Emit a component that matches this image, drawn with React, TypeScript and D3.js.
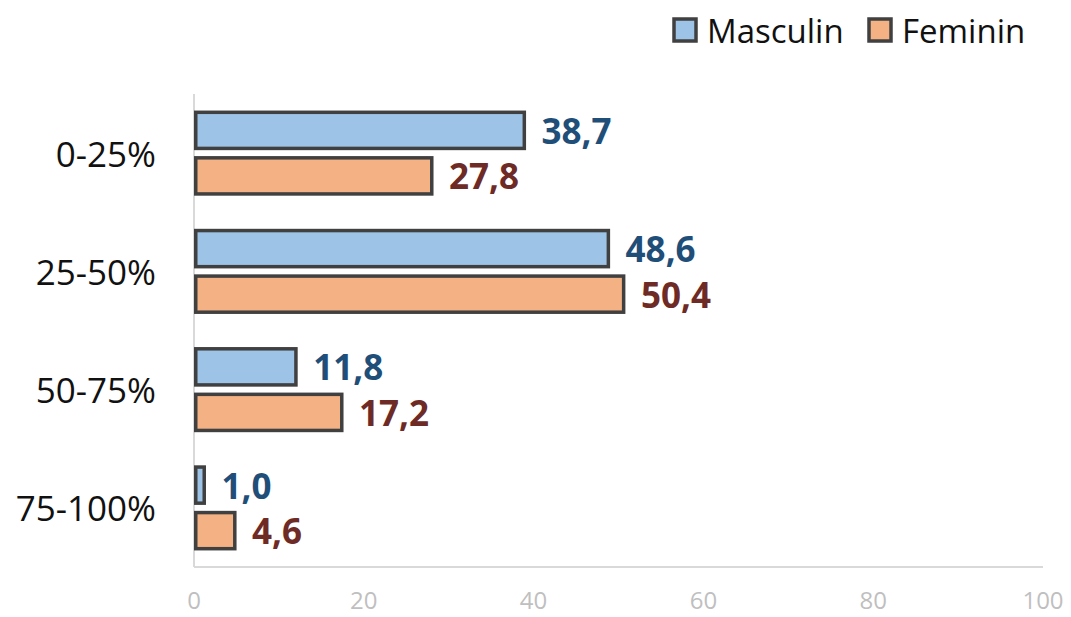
import React from "react";
import * as d3 from "d3";

const categories = ["0-25%", "25-50%", "50-75%", "75-100%"];
const seriesNames = ["Masculin", "Feminin"];
const masculin = [38.7, 48.6, 11.8, 1.0];
const feminin = [27.8, 50.4, 17.2, 4.6];
const xTicks = [0, 20, 40, 60, 80, 100];

const fills = ["#9DC3E6", "#F4B183"];
const labelColors = ["#1F4E79", "#6E2A25"];
const stroke = "#404040";
const FONT = "'Open Sans', 'Noto Sans', sans-serif";

export default function App() {
  const W = 1071, H = 617;
  const left = 194, right = 1043, top = 94, bottom = 567;
  const x = d3.scaleLinear().domain([0, 100]).range([left, right]);
  const y = d3.scaleBand<string>().domain(categories).range([top, bottom]).paddingInner(0.28).paddingOuter(0.14);
  const sub = d3.scaleBand<string>().domain(seriesNames).range([0, y.bandwidth()]).paddingInner(0.13);
  const sw = 3.5;
  const series = [masculin, feminin];
  const fmt = (v: number) => v.toFixed(1).replace(".", ",");

  return (
    <div style={{ position: "fixed", left: 0, top: 0, width: W, height: H, background: "#fff" }}>
      <svg width={W} height={H} style={{ display: "block" }} fontFamily={FONT}>
        <line x1={left} x2={left} y1={top} y2={bottom} stroke="#d9d9d9" strokeWidth={2} />
        <line x1={left} x2={right} y1={bottom} y2={bottom} stroke="#d9d9d9" strokeWidth={2} />
        {xTicks.map((t) => (
          <text key={t} x={x(t)} y={599} textAnchor="middle" dominantBaseline="central" fontSize={24} fill="#bfbfbf">
            {t}
          </text>
        ))}
        {categories.map((c) => (
          <text key={c} x={156} y={(y(c) ?? 0) + y.bandwidth() / 2} textAnchor="end" dominantBaseline="central" fontSize={35} fill="#111">
            {c}
          </text>
        ))}
        {categories.map((c, i) =>
          seriesNames.map((s, j) => {
            const v = series[j][i];
            const y0 = (y(c) ?? 0) + (sub(s) ?? 0);
            const bh = sub.bandwidth();
            return (
              <g key={c + s}>
                <rect
                  x={x(0) + sw / 2}
                  y={y0 + sw / 2}
                  width={Math.max(0, x(v) - x(0))}
                  height={bh - sw}
                  fill={fills[j]}
                  stroke={stroke}
                  strokeWidth={sw}
                />
                <text
                  x={x(v) + 19}
                  y={y0 + bh / 2}
                  dominantBaseline="central"
                  fontSize={35}
                  fontWeight="bold"
                  fill={labelColors[j]}
                >
                  {fmt(v)}
                </text>
              </g>
            );
          })
        )}
        {seriesNames.map((s, j) => {
          const lx = [674, 869][j];
          return (
            <g key={s}>
              <rect x={lx} y={19} width={22} height={22} fill={fills[j]} stroke={stroke} strokeWidth={3.5} />
              <text x={lx + 33} y={30} dominantBaseline="central" fontSize={33} fill="#111">
                {s}
              </text>
            </g>
          );
        })}
      </svg>
    </div>
  );
}
